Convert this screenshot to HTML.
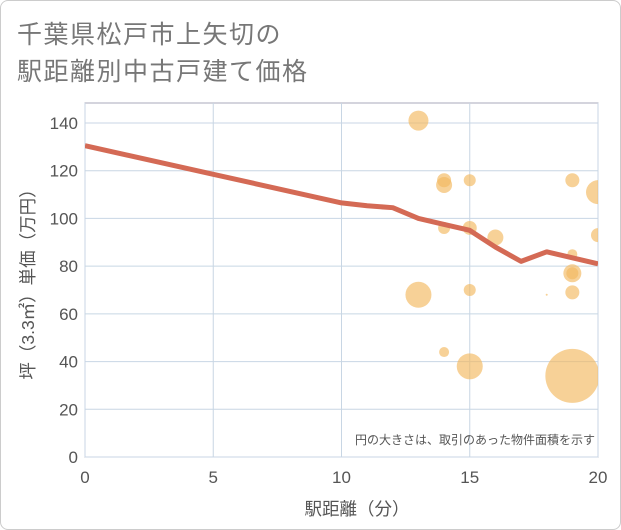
<!DOCTYPE html>
<html><head><meta charset="utf-8"><style>
body{margin:0;background:#fff;font-family:"Liberation Sans","Noto Sans CJK JP",sans-serif;}
#wrap{position:relative;width:619px;height:528px;border:1px solid #ccc;border-radius:8px;overflow:hidden;}
</style></head><body>
<div id="wrap">
<svg id="chart" width="621" height="530"></svg>
</div>
<script>
const xTicks=[0,5,10,15,20];
const yTicks=[0,20,40,60,80,100,120,140];
const lineX=[0,5,10,11,12,13,14,15,16,17,18,19,20];
const lineY=[130.5,118.5,106.5,105.3,104.5,100,97.5,95,88,82,86,83.5,81];
const bubX=[13,14,14,15,19,20,14,15,16,20,19,19,19,13,15,19,18,14,15,19];
const bubY=[141,116,114,116,116,111,96,96,92,93,85,77,77,68,70,69,68,44,38,34];
const bubR=[10,7,8,6,7,12,6,7,8,7,5,9,6,13,6,7,1,5,13,27];
const NS='http://www.w3.org/2000/svg';
const svg=document.getElementById('chart');
const L=84,R=597,T=102,B=456;
const xs=v=>L+(R-L)*v/20, ys=v=>B-(B-122)*v/140;
function mk(t,a,p){const e=document.createElementNS(NS,t);for(const k in a)e.setAttribute(k,a[k]);(p||svg).appendChild(e);return e;}
function txt(x,y,s,a){const e=mk('text',Object.assign({x:x,y:y,fill:'#555','font-size':14},a||{}));e.textContent=s;return e;}
let t1=txt(16,42,'千葉県松戸市上矢切の',{'font-size':25,fill:'#777','letter-spacing':1.5});

let t2=txt(16,79,'駅距離別中古戸建て価格',{'font-size':25,fill:'#777','letter-spacing':1.5});

mk('rect',{x:L,y:T,width:R-L,height:B-T,fill:'#fff',stroke:'#aab','stroke-width':1});
const defs=mk('defs',{});const cp=mk('clipPath',{id:'cp'},defs);mk('rect',{x:L,y:T,width:R-L,height:B-T},cp);
yTicks.forEach(v=>{const l=mk('line',{x1:L,x2:R,y1:ys(v),y2:ys(v),stroke:'#c8d6e4','stroke-width':1});

const t=txt(L-7,ys(v)+6,String(v),{'text-anchor':'end','font-size':17,fill:'#555'});
});
xTicks.forEach(v=>{const l=mk('line',{x1:xs(v),x2:xs(v),y1:T,y2:B,stroke:'#c8d6e4','stroke-width':1});

const t=txt(xs(v),B+26,String(v),{'text-anchor':'middle','font-size':17,fill:'#555'});
});
const g=mk('g',{'clip-path':'url(#cp)'});
bubX.forEach((x,i)=>{const c=mk('circle',{cx:xs(x),cy:ys(bubY[i]),r:bubR[i],fill:'rgba(242,184,96,0.65)'},g);
});
const pl=mk('polyline',{points:lineX.map((x,i)=>xs(x)+','+ys(lineY[i])).join(' '),fill:'none',stroke:'#d46a55','stroke-width':5,'stroke-linejoin':'round'},g);

const n=txt(594,443,'円の大きさは、取引のあった物件面積を示す',{'text-anchor':'end','font-size':12,fill:'#555'});

const xt=txt(356,514,'駅距離（分）',{'text-anchor':'middle','font-size':17.5,fill:'#555'});

const yt=txt(0,0,'坪（3.3㎡）単価（万円）',{'text-anchor':'middle','font-size':17.5,fill:'#555',transform:'translate(33,'+((T+B)/2)+') rotate(-90)'});

</script>
</body></html>
